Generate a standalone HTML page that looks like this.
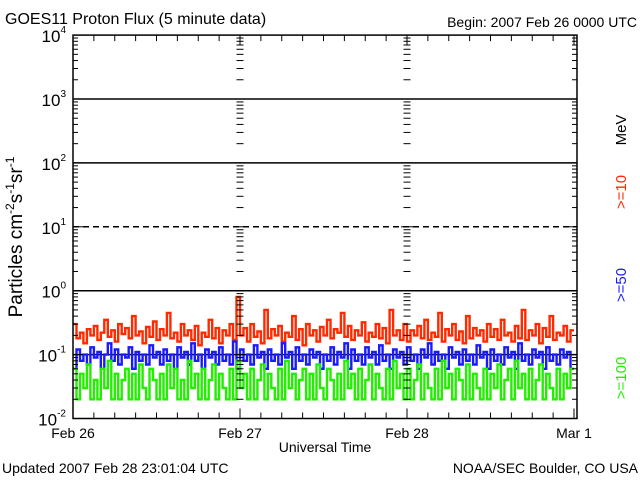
<!DOCTYPE html>
<html><head><meta charset="utf-8"><style>
body{margin:0;background:#fff}
svg{display:block;font-family:"Liberation Sans",sans-serif}
</style></head><body>
<svg id="c" width="640" height="480" viewBox="0 0 640 480">
<text x="5" y="24" font-size="16">GOES11 Proton Flux (5 minute data)</text>
<text x="637" y="27" font-size="14" text-anchor="end">Begin: 2007 Feb 26 0000 UTC</text>
<text x="2" y="473" font-size="14">Updated 2007 Feb 28 23:01:04 UTC</text>
<text x="638" y="473" font-size="14" text-anchor="end">NOAA/SEC Boulder, CO USA</text>
<text x="325" y="452" font-size="14" text-anchor="middle">Universal Time</text>
<text transform="translate(22,237) rotate(-90)" font-size="19" text-anchor="middle">Particles cm<tspan font-size="12" dy="-8">-2</tspan><tspan dy="8">s</tspan><tspan font-size="12" dy="-8">-1</tspan><tspan dy="8">sr</tspan><tspan font-size="12" dy="-8">-1</tspan></text>
<text transform="translate(626,130) rotate(-90)" font-size="15" text-anchor="middle">MeV</text>
<text transform="translate(626,192) rotate(-90)" font-size="15" fill="#ff2a00" text-anchor="middle">&gt;=10</text>
<text transform="translate(626,285) rotate(-90)" font-size="15" fill="#1a1aff" text-anchor="middle">&gt;=50</text>
<text transform="translate(626,378) rotate(-90)" font-size="15" fill="#22ee00" text-anchor="middle">&gt;=100</text>
<g id="grid"></g><g id="series"></g><g id="axes"></g>
</svg>
<script>
const dayLabels=["Feb 26","Feb 27","Feb 28","Mar 1"];
const decadeExps=[-2,-1,0,1,2,3,4];
const red=[0.3,0.18,0.22,0.15,0.25,0.2,0.28,0.17,0.22,0.35,0.19,0.24,0.16,0.3,0.21,0.26,0.18,0.4,0.2,0.23,0.15,0.27,0.19,0.33,
0.17,0.25,0.2,0.45,0.18,0.22,0.16,0.3,0.2,0.24,0.17,0.28,0.14,0.22,0.19,0.35,0.18,0.26,0.15,0.24,0.2,0.3,0.17,0.8,
0.2,0.26,0.16,0.3,0.19,0.23,0.15,0.5,0.18,0.25,0.2,0.28,0.16,0.22,0.19,0.4,0.17,0.25,0.14,0.3,0.2,0.24,0.16,0.27,
0.2,0.35,0.18,0.25,0.22,0.45,0.19,0.28,0.17,0.24,0.2,0.32,0.16,0.22,0.19,0.3,0.18,0.26,0.15,0.5,0.2,0.24,0.17,0.3,
0.16,0.24,0.2,0.28,0.18,0.35,0.17,0.22,0.19,0.45,0.16,0.25,0.2,0.3,0.17,0.23,0.15,0.4,0.18,0.26,0.2,0.24,0.16,0.3,
0.19,0.25,0.17,0.35,0.2,0.22,0.16,0.28,0.18,0.5,0.17,0.24,0.2,0.3,0.15,0.26,0.19,0.4,0.17,0.22,0.2,0.28,0.16,0.24];
const blue=[0.06,0.12,0.08,0.1,0.07,0.13,0.09,0.11,0.06,0.1,0.15,0.08,0.12,0.07,0.1,0.09,0.13,0.06,0.11,0.08,0.1,0.07,0.14,0.09,
0.11,0.07,0.12,0.08,0.1,0.06,0.13,0.09,0.11,0.07,0.15,0.08,0.1,0.06,0.12,0.09,0.11,0.07,0.13,0.08,0.1,0.07,0.16,0.06,
0.12,0.08,0.1,0.07,0.14,0.09,0.11,0.06,0.12,0.08,0.1,0.07,0.15,0.09,0.11,0.06,0.13,0.08,0.1,0.07,0.12,0.09,0.11,0.06,
0.1,0.08,0.13,0.07,0.11,0.09,0.15,0.06,0.12,0.08,0.1,0.07,0.13,0.09,0.11,0.07,0.14,0.08,0.1,0.06,0.12,0.09,0.11,0.07,
0.13,0.08,0.1,0.06,0.12,0.09,0.15,0.07,0.11,0.08,0.1,0.06,0.13,0.09,0.11,0.07,0.12,0.08,0.1,0.07,0.14,0.09,0.11,0.06,
0.12,0.08,0.1,0.07,0.13,0.09,0.11,0.06,0.15,0.08,0.1,0.07,0.12,0.09,0.11,0.06,0.13,0.08,0.1,0.07,0.12,0.09,0.11,0.06];
const green=[0.06,0.02,0.05,0.03,0.07,0.02,0.04,0.02,0.06,0.03,0.08,0.02,0.05,0.02,0.04,0.06,0.02,0.05,0.02,0.07,0.03,0.02,0.06,0.04,
0.02,0.05,0.02,0.07,0.03,0.06,0.02,0.04,0.02,0.08,0.03,0.05,0.02,0.06,0.02,0.04,0.07,0.02,0.05,0.03,0.02,0.06,0.02,0.08,
0.03,0.05,0.02,0.06,0.02,0.04,0.07,0.02,0.05,0.03,0.02,0.06,0.02,0.08,0.03,0.05,0.02,0.04,0.06,0.02,0.05,0.02,0.07,0.03,
0.02,0.06,0.04,0.02,0.05,0.02,0.08,0.03,0.05,0.02,0.06,0.02,0.04,0.07,0.02,0.05,0.03,0.02,0.06,0.02,0.08,0.03,0.05,0.02,
0.06,0.02,0.04,0.07,0.02,0.05,0.03,0.02,0.06,0.02,0.08,0.03,0.05,0.02,0.06,0.04,0.02,0.07,0.02,0.05,0.03,0.02,0.06,0.02,
0.05,0.03,0.07,0.02,0.04,0.06,0.02,0.08,0.03,0.05,0.02,0.06,0.02,0.04,0.07,0.02,0.05,0.03,0.02,0.06,0.02,0.05,0.03,0.06];
const NS="http://www.w3.org/2000/svg";
const X0=73,X1=577,DAY=167,Y0=418.5,DEC=63.9;
const xs=d=>X0+d*DAY;
const ys=v=>Y0-(Math.log10(v)+2)*DEC;
function mk(tag,attrs,parent){const e=document.createElementNS(NS,tag);for(const k in attrs)e.setAttribute(k,attrs[k]);parent.appendChild(e);return e;}
const grid=document.getElementById('grid'),axes=document.getElementById('axes'),ser=document.getElementById('series');
decadeExps.forEach(e=>{if(e===-2||e===4)return;const y=ys(Math.pow(10,e));
const l=mk('line',{x1:X0,x2:X1,y1:y,y2:y,stroke:'#000','stroke-width':1.5,'stroke-dasharray':e===1?'6,4':'none'},grid);

});
[[red,'#ff2a00','series-10mev'],[blue,'#1a1aff','series-50mev'],[green,'#22ee00','series-100mev']].forEach(([arr,c,n])=>{
const step=3/arr.length;let d='';arr.forEach((v,i)=>{const y=ys(v).toFixed(1);
d+=(i?'L':'M')+xs(i*step).toFixed(1)+','+y+'L'+xs((i+1)*step).toFixed(1)+','+y;});
const p=mk('path',{d:d,fill:'none',stroke:c,'stroke-width':2.4,'stroke-linejoin':'miter'},ser);

});
const f=mk('rect',{x:X0,y:ys(1e4),width:X1-X0,height:Y0-ys(1e4),fill:'none',stroke:'#000','stroke-width':1.5},axes);


const tickXs=[[X0,1],[X1,-1],[xs(1),0],[xs(2),0]];
decadeExps.forEach(e=>{if(e===4)return;for(let m=1;m<=9;m++){const y=ys(m*Math.pow(10,e));const len=m===1?10:5;
tickXs.forEach(([x,dir])=>{if(dir===0){mk('line',{x1:x-len/2-1,x2:x+len/2+1,y1:y,y2:y,stroke:'#000','stroke-width':1},axes);}
else mk('line',{x1:x,x2:x+dir*len,y1:y,y2:y,stroke:'#000','stroke-width':1},axes);});}});
decadeExps.forEach(e=>{const y=ys(Math.pow(10,e));const t=mk('text',{x:66,y:y+7,'font-size':17,'text-anchor':'end'},axes);
t.textContent='10';const s=mk('tspan',{'font-size':10,dy:-9},t);s.textContent=String(e);

});
for(let i=0;i<=24;i++){const x=xs(i/8);const len=i%8===0?10:6;
mk('line',{x1:x,x2:x,y1:Y0,y2:Y0-len,stroke:'#000','stroke-width':1},axes);
mk('line',{x1:x,x2:x,y1:ys(1e4),y2:ys(1e4)+len,stroke:'#000','stroke-width':1},axes);}
dayLabels.forEach((s,i)=>{const t=mk('text',{x:xs(i),y:438,'font-size':14,'text-anchor':'middle'},axes);t.textContent=s;

});
</script>
</body></html>
